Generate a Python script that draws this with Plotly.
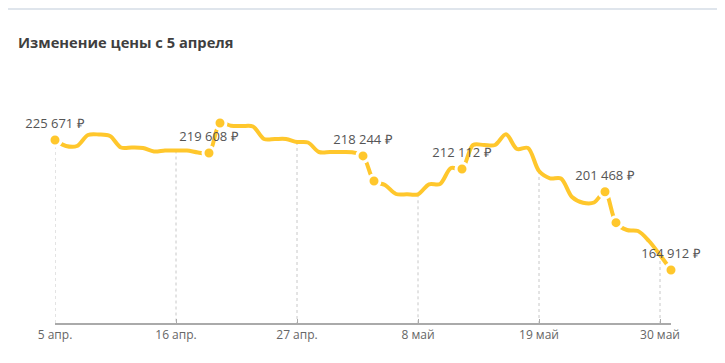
import pandas as pd
import plotly.graph_objects as go

# ---- data ----
start_date = "2024-04-05"
prices = [
    225671, 222870, 222870, 228010, 228240, 227540, 222170, 222170, 221930, 220300,
    220760, 220760, 220760, 219830, 219608, 233620, 232360, 232210, 231980, 226140,
    226140, 226140, 224740, 224500, 220060, 220060, 220060, 219920, 218244, 206510,
    204640, 200430, 200290, 200290, 204970, 205110, 212580, 212112, 223330, 223330,
    223330, 228340, 221460, 221930, 211180, 207770, 207680, 199030, 196370, 196460,
    201468, 187020, 183610, 183140, 178460, 171920, 164912,
]
dates = pd.date_range(start_date, periods=len(prices), freq="D")

# points highlighted with a dot, and which of them carry a price label
marker_idx = [0, 14, 15, 28, 29, 37, 50, 51, 56]
labeled_idx = [0, 14, 28, 37, 50, 56]

tick_dates = ["2024-04-05", "2024-04-16", "2024-04-27", "2024-05-08", "2024-05-19", "2024-05-30"]
tick_text = ["5 апр.", "16 апр.", "27 апр.", "8 май", "19 май", "30 май"]

title_text = "Изменение цены с 5 апреля"

# ---- styles ----
GOLD = "#FFC72C"
Y_MIN, Y_MAX = 140137, 263063


def fmt_price(v):
    return f"{v:,}".replace(",", " ") + " ₽"


series = pd.Series(prices, index=dates)

# dotted drop lines at tick dates
drop_x, drop_y = [], []
for td in tick_dates:
    t = pd.Timestamp(td)
    drop_x += [t, t, None]
    drop_y += [series[t], Y_MIN, None]

fig = go.Figure()
fig.add_trace(go.Scatter(
    x=drop_x, y=drop_y, mode="lines",
    line=dict(color="#c8c8c8", width=1, dash="dot"),
    hoverinfo="skip", showlegend=False,
))
fig.add_trace(go.Scatter(
    x=dates, y=prices, mode="lines",
    line=dict(color=GOLD, width=4, shape="spline", smoothing=0.9),
    showlegend=False,
))
fig.add_trace(go.Scatter(
    x=[dates[i] for i in marker_idx],
    y=[prices[i] for i in marker_idx],
    mode="markers+text",
    marker=dict(color=GOLD, size=12, line=dict(color="white", width=3)),
    text=[fmt_price(prices[i]) if i in labeled_idx else "" for i in marker_idx],
    textposition="top center",
    textfont=dict(family="Open Sans", size=13, color="#555555"),
    showlegend=False,
    cliponaxis=False,
))

fig.update_layout(
    width=725, height=363,
    margin=dict(l=47, r=62, t=52, b=48),
    paper_bgcolor="white", plot_bgcolor="white",
    font=dict(family="Open Sans", color="#555555"),
    title=dict(
        text=f"<b>{title_text}</b>",
        x=10 / 725, xanchor="left", xref="container",
        y=1 - 35 / 363, yanchor="middle", yref="container",
        font=dict(family="Open Sans", size=14.7, color="#3f3f3f"),
    ),
    xaxis=dict(
        range=[dates[0], dates[-1]],
        tickvals=tick_dates, ticktext=tick_text,
        showgrid=False, zeroline=False,
        showline=True, linecolor="#aaaaaa", linewidth=2,
        ticks="inside", ticklen=4, tickcolor="#aaaaaa",
        tickfont=dict(family="Open Sans", size=12, color="#666666"),
    ),
    yaxis=dict(
        range=[Y_MIN, Y_MAX], visible=False,
    ),
    shapes=[dict(type="line", xref="paper", yref="paper",
                 x0=-1, x1=2, y0=1 + 51 / 263, y1=1 + 51 / 263,
                 line=dict(color="#dfe5ec", width=2))],
)

fig.write_html("out.html")
